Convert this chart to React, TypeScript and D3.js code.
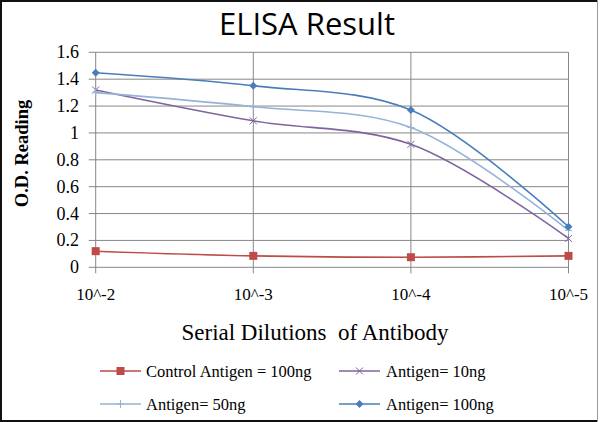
import React, { useEffect, useRef } from 'react';
import * as d3 from 'd3';

const dilutions = ['10^-2', '10^-3', '10^-4', '10^-5'];
const yTicks = [0, 0.2, 0.4, 0.6, 0.8, 1, 1.2, 1.4, 1.6];

const controlValues = [0.12, 0.085, 0.075, 0.085];
const antigen10Values = [1.32, 1.09, 0.915, 0.215];
const antigen50Values = [1.3, 1.195, 1.04, 0.275];
const antigen100Values = [1.448, 1.351, 1.17, 0.302];

const seriesNames = ['Control Antigen = 100ng', 'Antigen= 10ng', 'Antigen= 50ng', 'Antigen= 100ng'];
const seriesColors = ['#BE4B48', '#7E649E', '#95B3D7', '#4A7EBB'];
const seriesMarkers = ['square', 'cross', 'plus', 'diamond'];

const width = 600;
const height = 422;
const serif = 'Liberation Serif, Times New Roman, serif';

function App() {
  const svgRef = useRef<SVGSVGElement>(null);

  useEffect(() => {
    if (!svgRef.current) return;
    const svg = d3.select(svgRef.current);
    svg.selectAll('*').remove();

    const left = 95.7, right = 568.5, top = 52.3, bottom = 267.3;

    const x = d3.scalePoint<string>().domain(dilutions).range([left, right]);
    const y = d3.scaleLinear().domain([0, 1.6]).range([bottom, top]);

    // frame: dark on three sides, thin grey on the right
    svg.append('rect')
      .attr('x', 0).attr('y', 0).attr('width', width).attr('height', height).attr('fill', '#fff');
    svg.append('path')
      .attr('d', `M597,1H1V${height - 1}H597`)
      .attr('fill', 'none').attr('stroke', '#111').attr('stroke-width', 2);
    svg.append('line')
      .attr('x1', 597.5).attr('x2', 597.5).attr('y1', 0).attr('y2', height)
      .attr('stroke', '#999').attr('stroke-width', 1);

    // horizontal grid
    svg.append('g')
      .selectAll('line')
      .data(yTicks)
      .enter().append('line')
      .attr('x1', left - 7).attr('x2', right)
      .attr('y1', d => y(d)).attr('y2', d => y(d))
      .attr('stroke', '#878787').attr('stroke-width', 1);

    // vertical grid
    svg.append('g')
      .selectAll('line')
      .data(dilutions)
      .enter().append('line')
      .attr('x1', d => x(d)!).attr('x2', d => x(d)!)
      .attr('y1', top).attr('y2', bottom + 6)
      .attr('stroke', '#878787').attr('stroke-width', 1);

    // y tick labels
    svg.append('g')
      .selectAll('text')
      .data(yTicks)
      .enter().append('text')
      .attr('x', 79).attr('y', d => y(d) + 6)
      .attr('text-anchor', 'end')
      .attr('font-family', serif)
      .attr('font-size', 18)
      .text(d => String(d));

    // x tick labels
    svg.append('g')
      .selectAll('text')
      .data(dilutions)
      .enter().append('text')
      .attr('x', d => x(d)!).attr('y', 300)
      .attr('text-anchor', 'middle')
      .attr('font-family', serif)
      .attr('font-size', 17)
      .text(d => d);

    svg.append('text')
      .attr('x', 307).attr('y', 35)
      .attr('text-anchor', 'middle')
      .attr('font-family', 'Open Sans, DejaVu Sans, sans-serif')
      .attr('font-size', 31)
      .text('ELISA Result');

    svg.append('text')
      .attr('x', 315).attr('y', 340)
      .attr('text-anchor', 'middle')
      .attr('font-family', serif)
      .attr('font-size', 23)
      .style('white-space', 'pre')
      .text('Serial Dilutions  of Antibody');

    svg.append('text')
      .attr('transform', 'rotate(-90)')
      .attr('x', -153.5).attr('y', 28)
      .attr('text-anchor', 'middle')
      .attr('font-family', serif)
      .attr('font-size', 18.5)
      .attr('font-weight', 'bold')
      .text('O.D. Reading');

    const allValues = [controlValues, antigen10Values, antigen50Values, antigen100Values];

    const line = d3.line<number>()
      .x((_, i) => x(dilutions[i])!)
      .y(d => y(d))
      .curve(d3.curveCatmullRom.alpha(0.5));

    const drawMarker = (g: d3.Selection<SVGGElement, unknown, null, undefined>, kind: string, cx: number, cy: number, color: string) => {
      if (kind === 'square') {
        g.append('rect').attr('x', cx - 4).attr('y', cy - 4).attr('width', 8).attr('height', 8).attr('fill', color);
      } else if (kind === 'diamond') {
        g.append('path').attr('d', `M${cx},${cy - 4}L${cx + 4},${cy}L${cx},${cy + 4}L${cx - 4},${cy}Z`).attr('fill', color);
      } else if (kind === 'cross') {
        g.append('path').attr('d', `M${cx - 3.5},${cy - 3.5}L${cx + 3.5},${cy + 3.5}M${cx - 3.5},${cy + 3.5}L${cx + 3.5},${cy - 3.5}`)
          .attr('stroke', color).attr('stroke-width', 1);
      } else {
        g.append('path').attr('d', `M${cx - 3.5},${cy}L${cx + 3.5},${cy}M${cx},${cy - 4}L${cx},${cy + 4}`)
          .attr('stroke', color).attr('stroke-width', 1);
      }
    };

    allValues.forEach((vals, si) => {
      const g = svg.append('g');
      g.append('path')
        .datum(vals)
        .attr('fill', 'none')
        .attr('stroke', seriesColors[si])
        .attr('stroke-width', 1.6)
        .attr('d', line);
      vals.forEach((v, i) => drawMarker(g, seriesMarkers[si], x(dilutions[i])!, y(v), seriesColors[si]));
    });

    // legend
    const legendPos = [
      { lx: 100, tx: 146, cy: 371 },
      { lx: 339, tx: 386, cy: 371 },
      { lx: 100, tx: 146, cy: 404 },
      { lx: 339, tx: 386, cy: 404 },
    ];
    seriesNames.forEach((name, si) => {
      const p = legendPos[si];
      const g = svg.append('g');
      g.append('line')
        .attr('x1', p.lx).attr('x2', p.lx + 41)
        .attr('y1', p.cy).attr('y2', p.cy)
        .attr('stroke', seriesColors[si]).attr('stroke-width', 1.6);
      drawMarker(g, seriesMarkers[si], p.lx + 20.5, p.cy, seriesColors[si]);
      g.append('text')
        .attr('x', p.tx).attr('y', p.cy + 6)
        .attr('font-family', serif)
        .attr('font-size', 16.5)
        .text(name);
    });
  }, []);

  return (
    <svg ref={svgRef} width={width} height={height} style={{ position: 'absolute', left: 0, top: 0 }}></svg>
  );
}

export default App;
